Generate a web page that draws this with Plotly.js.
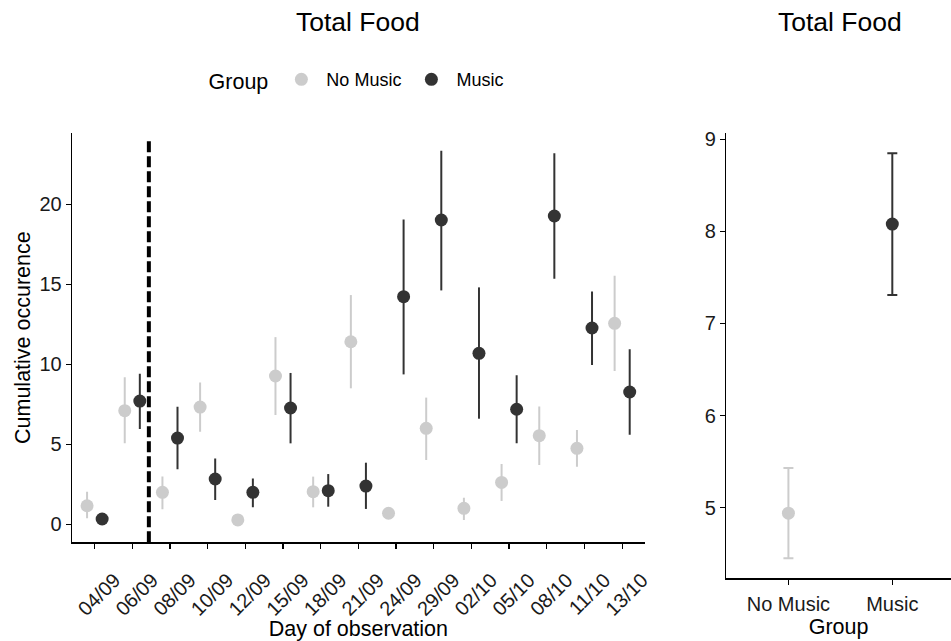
<!DOCTYPE html>
<html>
<head>
<meta charset="utf-8">
<script src="https://cdn.plot.ly/plotly-3.0.1.min.js"></script>
<style>html,body{margin:0;padding:0;background:#fff;}#chart{width:951px;height:641px;}</style>
</head>
<body>
<div id="chart"></div>
<script>
const days = ['04/09','06/09','08/09','10/09','12/09','15/09','18/09','21/09','24/09','29/09','02/10','05/10','08/10','11/10','13/10'];
const noMusicMean  = [1.16, 7.10, 2.00, 7.33, 0.27, 9.27, 2.04, 11.41, 0.69, 6.00, 1.00, 2.62, 5.54, 4.75, 12.56];
const noMusicUpper = [2.04, 9.19, 2.98, 8.87, 0.50, 11.70, 2.98, 14.33, 0.95, 7.92, 1.66, 3.77, 7.37, 5.89, 15.54];
const noMusicLower = [0.37, 5.06, 0.94, 5.79, 0.05, 6.83, 1.06, 8.50, 0.45, 4.02, 0.27, 1.46, 3.71, 3.60, 9.58];
const musicMean  = [0.33, 7.70, 5.39, 2.83, 2.00, 7.27, 2.10, 2.39, 14.23, 19.02, 10.69, 7.19, 19.27, 12.27, 8.27];
const musicUpper = [0.60, 9.41, 7.35, 4.12, 2.87, 9.46, 3.14, 3.85, 19.06, 23.35, 14.81, 9.31, 23.19, 14.56, 10.94];
const musicLower = [0.10, 5.96, 3.44, 1.52, 1.06, 5.06, 1.10, 0.96, 9.37, 14.62, 6.60, 5.06, 15.35, 9.96, 5.60];

const groups = ['No Music', 'Music'];
const totalMean  = [4.94, 8.08];
const totalUpper = [5.43, 8.85];
const totalLower = [4.45, 7.31];

const interventionPos = 1.44; // dashed line between 06/09 and 08/09

const GREY = '#cccccc', DARK = '#333333';
const FONT = 'Liberation Sans, Arial, sans-serif';

function diff(a, b) { return a.map((v, i) => v - b[i]); }

const traces = [
  {
    x: days, y: noMusicMean, type: 'scatter', mode: 'markers', name: 'No Music',
    legendgroup: 'nm', offsetgroup: 'nm', xaxis: 'x', yaxis: 'y',
    marker: {color: GREY, size: 13},
    error_y: {type: 'data', symmetric: false, array: diff(noMusicUpper, noMusicMean),
              arrayminus: diff(noMusicMean, noMusicLower), color: GREY, thickness: 2, width: 0}
  },
  {
    x: days, y: musicMean, type: 'scatter', mode: 'markers', name: 'Music',
    legendgroup: 'm', offsetgroup: 'm', xaxis: 'x', yaxis: 'y',
    marker: {color: DARK, size: 13},
    error_y: {type: 'data', symmetric: false, array: diff(musicUpper, musicMean),
              arrayminus: diff(musicMean, musicLower), color: DARK, thickness: 2, width: 0}
  },
  {
    x: [groups[0]], y: [totalMean[0]], type: 'scatter', mode: 'markers', name: 'No Music',
    legendgroup: 'nm', showlegend: false, offsetgroup: 'r', xaxis: 'x2', yaxis: 'y2',
    marker: {color: GREY, size: 13},
    error_y: {type: 'data', symmetric: false, array: [totalUpper[0] - totalMean[0]],
              arrayminus: [totalMean[0] - totalLower[0]], color: GREY, thickness: 2, width: 5}
  },
  {
    x: [groups[1]], y: [totalMean[1]], type: 'scatter', mode: 'markers', name: 'Music',
    legendgroup: 'm', showlegend: false, offsetgroup: 'r', xaxis: 'x2', yaxis: 'y2',
    marker: {color: DARK, size: 13},
    error_y: {type: 'data', symmetric: false, array: [totalUpper[1] - totalMean[1]],
              arrayminus: [totalMean[1] - totalLower[1]], color: DARK, thickness: 2, width: 5}
  }
];

const axisCommon = {
  showline: true, linecolor: '#000', linewidth: 1.3, ticks: 'outside', ticklen: 5,
  tickwidth: 1.3, tickcolor: '#000', showgrid: false, zeroline: false,
  tickfont: {family: FONT, size: 20, color: '#1a1a1a'}
};

const layout = {
  width: 951, height: 641,
  margin: {l: 0, r: 0, t: 0, b: 0},
  paper_bgcolor: '#fff', plot_bgcolor: '#fff',
  font: {family: FONT, color: '#000'},
  showlegend: true,
  scattermode: 'group', scattergap: 0.2,
  legend: {
    orientation: 'h', x: 0.376, xanchor: 'center', y: 0.875, yanchor: 'middle',
    title: {text: 'Group', font: {family: FONT, size: 21.5}, side: 'left'},
    font: {family: FONT, size: 18}, itemwidth: 40
  },
  xaxis: Object.assign({}, axisCommon, {
    domain: [0.0757, 0.678], anchor: 'y', type: 'category',
    categoryorder: 'array', categoryarray: days,
    range: [-0.6, days.length - 0.4], tickangle: -45,
    ticklabelshift: 20, ticklabelstandoff: 12,
    title: {text: 'Day of observation', font: {family: FONT, size: 21.5}, standoff: 0}
  }),
  yaxis: Object.assign({}, axisCommon, {
    domain: [0.154, 0.7925], anchor: 'x', range: [-1.125, 24.46],
    tickvals: [0, 5, 10, 15, 20],
    title: {text: 'Cumulative occurence', font: {family: FONT, size: 21.5}, standoff: 3}
  }),
  xaxis2: Object.assign({}, axisCommon, {
    domain: [0.7635, 1.0], anchor: 'y2', type: 'category',
    categoryorder: 'array', categoryarray: groups,
    range: [-0.6, 1.565], ticklabelstandoff: 2,
    title: {text: 'Group', font: {family: FONT, size: 21.5}, standoff: 3}
  }),
  yaxis2: Object.assign({}, axisCommon, {
    domain: [0.0978, 0.792], anchor: 'x2', range: [4.233, 9.065],
    tickvals: [5, 6, 7, 8, 9]
  }),
  shapes: [{
    type: 'line', xref: 'x', yref: 'y domain', x0: interventionPos, x1: interventionPos,
    y0: 0, y1: 0.98, line: {color: '#000', width: 4, dash: '11px,4px'}
  }],
  annotations: [
    {text: 'Total Food', xref: 'paper', yref: 'paper', x: 0.376, y: 0.966, xanchor: 'center',
     yanchor: 'middle', showarrow: false, font: {family: FONT, size: 26.5, color: '#000'}},
    {text: 'Total Food', xref: 'paper', yref: 'paper', x: 0.8835, y: 0.966, xanchor: 'center',
     yanchor: 'middle', showarrow: false, font: {family: FONT, size: 26.5, color: '#000'}}
  ]
};

Plotly.newPlot('chart', traces, layout, {staticPlot: true, displayModeBar: false});
</script>
</body>
</html>
